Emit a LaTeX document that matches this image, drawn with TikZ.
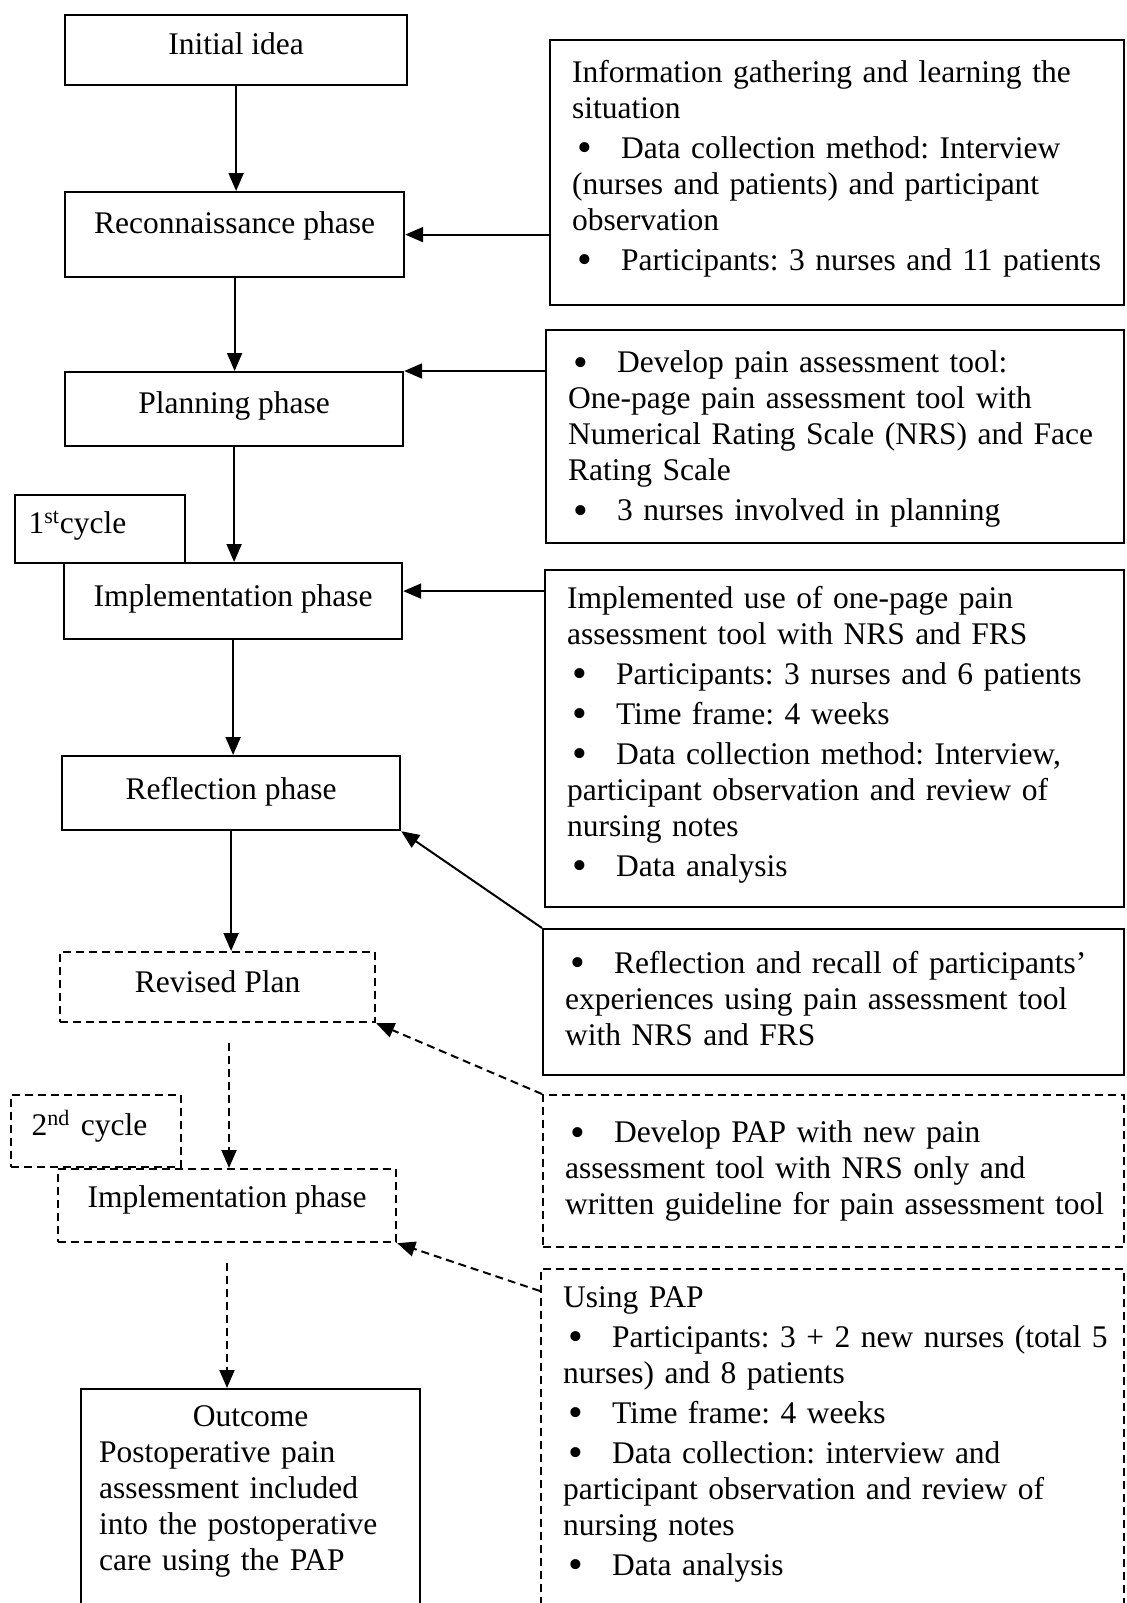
\documentclass[tikz,border=0pt]{standalone}
\usepackage{fontspec}
\setmainfont{Liberation Serif}
\usetikzlibrary{arrows.meta}
\newcommand{\bul}{\makebox[24.5pt][l]{\hspace{2.5pt}\raisebox{-1.6pt}{\fontsize{21}{18}\selectfont\textbullet}}}
\newcommand{\rows}[1]{\begin{tabular}[t]{@{}l@{}}#1\end{tabular}}

\begin{document}
\begin{tikzpicture}[x=0.5pt, y=-0.5pt, line width=1pt,
  >={Triangle[length=9pt, width=7.5pt]},
  every node/.style={font=\fontsize{15.75}{18}\selectfont\frenchspacing, inner sep=0pt, anchor=north west},
  phase/.style={draw, line width=1.1pt, align=center},
  cyc/.style={draw, line width=1.1pt, align=left},
  infobox/.style={draw, line width=1.1pt, inner xsep=11pt, align=left},
  dashbox/.style={dash pattern=on 4pt off 2.5pt}]
\clip (0,0) rectangle (1127,1603);

% left column, first cycle
\node[phase, minimum width=171pt, text height=19.9pt, text depth=15.1pt] (init) at (64,14) {Initial idea};
\node[phase, minimum width=169.5pt, text height=20.9pt, text depth=21.6pt] (recon) at (64,191) {Reconnaissance phase};
\node[phase, minimum width=169pt, text height=20.9pt, text depth=16.1pt] (plan) at (64,371) {Planning phase};
\node[cyc, text width=71.6pt, inner xsep=6.7pt, text height=19.2pt, text depth=14.8pt] (cyc1) at (14,494) {1\textsuperscript{st}cycle};
\node[phase, minimum width=169pt, text height=21.5pt, text depth=16.5pt] (impl1) at (63,562) {Implementation phase};
\node[phase, minimum width=169pt, text height=21.6pt, text depth=15.4pt] (refl) at (61,755) {Reflection phase};

% left column, second cycle
\node[phase, dashbox, minimum width=157.5pt, text height=20.3pt, text depth=14.7pt] (revised) at (59,951) {Revised Plan};
\node[cyc, dashbox, text width=64.4pt, inner xsep=10.3pt, text height=20.4pt, text depth=15.6pt] (cyc2) at (10,1094) {2\textsuperscript{nd} cycle};
\node[phase, dashbox, minimum width=169pt, text height=19.2pt, text depth=17.3pt] (impl2) at (57,1168) {Implementation phase};
\node[cyc, text width=151.5pt, inner xsep=9pt, text height=18.5pt, text depth=101.5pt] (outcome) at (80,1388)
  {\rows{\makebox[151.5pt][c]{Outcome}\\
   Postoperative pain\\
   assessment included\\
   into the postoperative\\
   care using the PAP}};

% right column
\node[infobox, text width=265pt, text height=21.2pt, text depth=111.3pt] (info) at (549,39)
  {\rows{Information gathering and learning the\\
   situation\\[2pt]
   \bul Data collection method: Interview\\
   (nurses and patients) and participant\\
   observation\\[2pt]
   \bul Participants: 3 nurses and 11 patients}};
\node[infobox, text width=267pt, text height=21.4pt, text depth=85.1pt] (tool) at (545,329)
  {\rows{\bul Develop pain assessment tool:\\
   One-page pain assessment tool with\\
   Numerical Rating Scale (NRS) and Face\\
   Rating Scale\\[2pt]
   \bul 3 nurses involved in planning}};
\node[infobox, text width=267.5pt, text height=19pt, text depth=149.5pt] (implemented) at (544,569)
  {\rows{Implemented use of one-page pain\\
   assessment tool with NRS and FRS\\[2pt]
   \bul Participants: 3 nurses and 6 patients\\[2pt]
   \bul Time frame: 4 weeks\\[2pt]
   \bul Data collection method: Interview,\\
   participant observation and review of\\
   nursing notes\\[2pt]
   \bul Data analysis}};
\node[infobox, text width=268.5pt, text height=22pt, text depth=51pt] (reflbox) at (542,928)
  {\rows{\bul Reflection and recall of participants'\\
   experiences using pain assessment tool\\
   with NRS and FRS}};
\node[infobox, dashbox, text width=268.5pt, text height=23.9pt, text depth=52.1pt] (papdev) at (542,1094)
  {\rows{\bul Develop PAP with new pain\\
   assessment tool with NRS only and\\
   written guideline for pain assessment tool}};
\node[infobox, dashbox, text width=269.5pt, text height=19.2pt, text depth=156.8pt] (usingpap) at (540,1268)
  {\rows{Using PAP\\[2pt]
   \bul Participants: 3 + 2 new nurses (total 5\\
   nurses) and 8 patients\\[2pt]
   \bul Time frame: 4 weeks\\[2pt]
   \bul Data collection: interview and\\
   participant observation and review of\\
   nursing notes\\[2pt]
   \bul Data analysis}};

\coordinate (revout) at (229,1043);
\coordinate (implout) at (227,1263);

% flow down the left column
\draw[->] (init.south) -- (init.south |- recon.north);
\draw[->] (recon.south) -- (recon.south |- plan.north);
\draw[->] (plan.south) -- (plan.south |- impl1.north);
\draw[->] (impl1.south) -- (impl1.south |- refl.north);
\draw[->] (refl.south) -- (refl.south |- revised.north);
\draw[->, dashbox] (revout) -- (revout |- impl2.north);
\draw[->, dashbox] (implout) -- (implout |- outcome.north);

% inputs from the right column
\draw[->] (info.west |- recon.east) -- (recon.east);
\draw[->] (tool.west |- plan.north east) -- (plan.north east);
\draw[->] ([yshift=5pt]implemented.west |- impl1.east) -- ([yshift=5pt]impl1.east);
\draw[->] (reflbox.north west) -- (refl.south east);
\draw[->, dashbox] (papdev.north west) -- (revised.south east);
\draw[->, dashbox] ([yshift=-11.5pt]usingpap.north west) -- (impl2.south east);

\end{tikzpicture}
\end{document}
